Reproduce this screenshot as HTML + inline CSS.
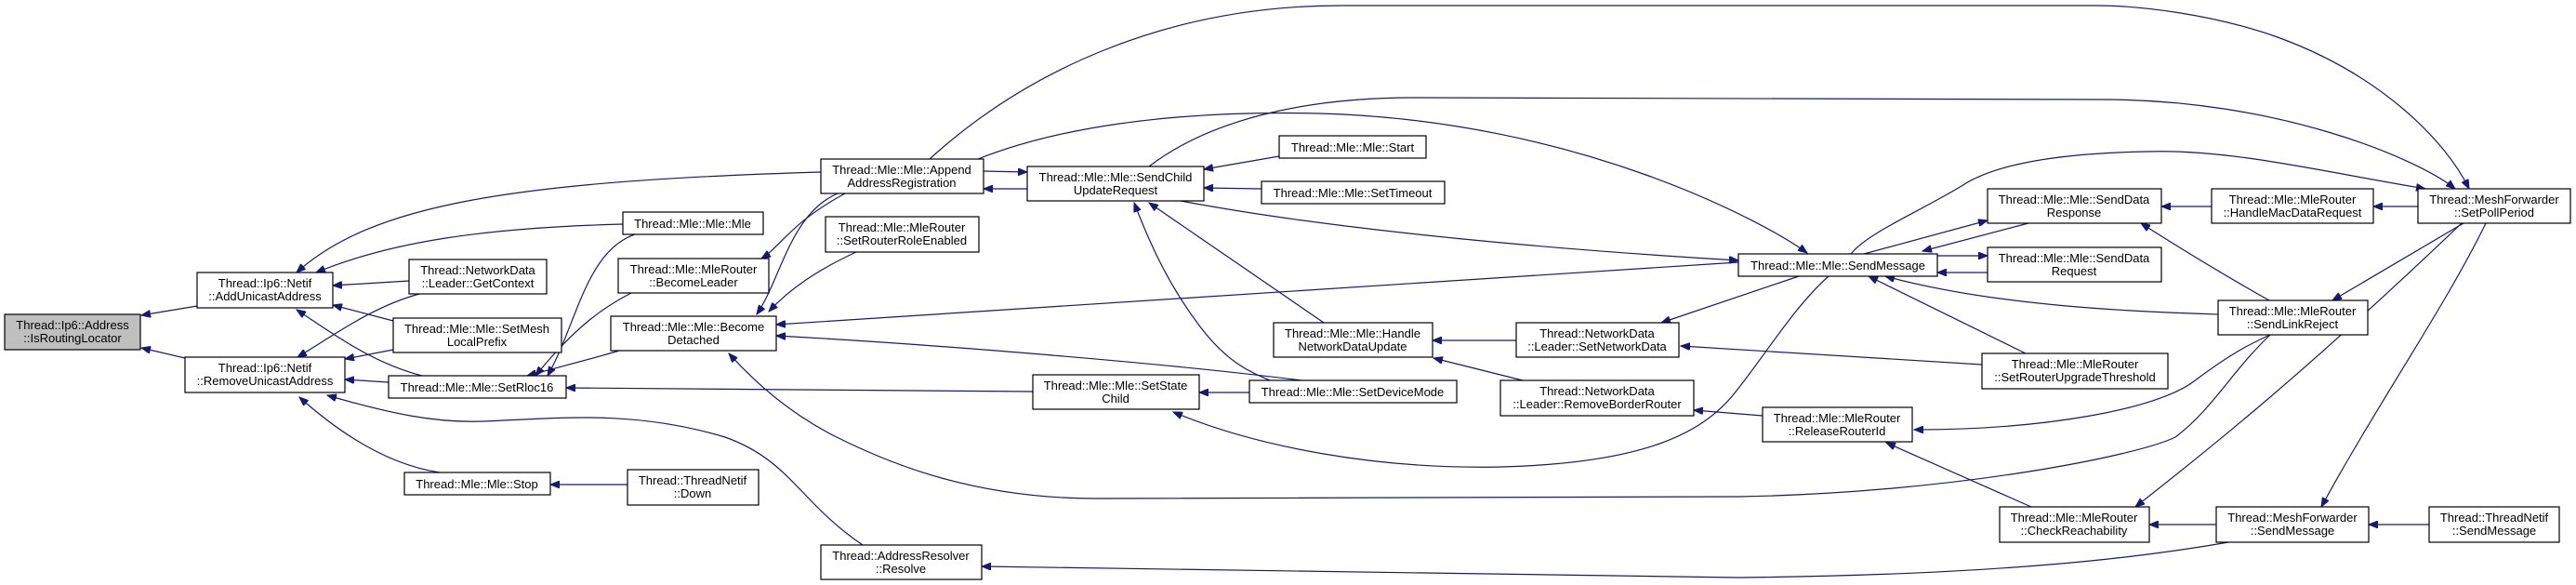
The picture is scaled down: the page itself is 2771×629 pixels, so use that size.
<!DOCTYPE html>
<html><head><meta charset="utf-8"><style>
html,body{margin:0;padding:0;background:#fff;}
svg{display:block;}
text{font-family:"Liberation Sans",sans-serif;font-size:13px;fill:#000;text-anchor:middle;}
.n{fill:#fff;stroke:#000;stroke-width:1.2;}
.e{fill:none;stroke:#191970;stroke-width:1.2;marker-start:url(#a);}
</style></head><body>
<svg width="2771" height="629" viewBox="0 0 2771 629" xmlns="http://www.w3.org/2000/svg">
<defs><marker id="a" markerWidth="11" markerHeight="8" refX="10" refY="4" orient="auto-start-reverse" markerUnits="userSpaceOnUse"><path d="M0,0 L10,4 L0,8 z" fill="#191970" stroke="#191970"/></marker></defs>
<g>
<path class="e" d="M152,339 L212,329"/>
<path class="e" d="M152,374 L199,385"/>
<path class="e" d="M319,293 C400,220 550,195 883,185"/>
<path class="e" d="M340,293 C420,260 520,245 670,241"/>
<path class="e" d="M358,307 L440,302"/>
<path class="e" d="M358,328 L423,345"/>
<path class="e" d="M319,333 C360,360 400,390 454,404"/>
<path class="e" d="M320,384 C360,360 400,330 451,316"/>
<path class="e" d="M371,386 L423,376"/>
<path class="e" d="M371,408 L418,411"/>
<path class="e" d="M322,427 C370,470 420,500 473,508"/>
<path class="e" d="M352,425 C420,445 470,455 520,453 C600,450 680,440 780,470 C850,495 860,540 928,586"/>
<path class="e" d="M592,521 L675,521"/>
<path class="e" d="M589,404 C620,350 630,270 683,252"/>
<path class="e" d="M576,404 C620,350 650,330 679,315"/>
<path class="e" d="M567,404 C600,395 640,385 666,377"/>
<path class="e" d="M609,417 L1111,421"/>
<path class="e" d="M819,278 C840,265 850,240 909,208"/>
<path class="e" d="M814,338 C840,300 850,230 901,208"/>
<path class="e" d="M827,335 C850,310 880,290 921,271"/>
<path class="e" d="M835,349 L1870,282"/>
<path class="e" d="M835,361 C1000,370 1250,390 1400,409"/>
<path class="e" d="M784,380 C820,420 860,450 900,470 C960,500 1050,536 1180,536 L1870,534 C2100,530 2300,490 2340,470 C2380,440 2400,400 2442,360"/>
<path class="e" d="M1290,422 L1344,422"/>
<path class="e" d="M1262,443 C1350,480 1480,505 1615,502 C1760,498 1830,470 1868,420 C1900,380 1930,330 1967,297"/>
<path class="e" d="M1105,185 L1058,184"/>
<path class="e" d="M1058,203 L1105,203"/>
<path class="e" d="M1295,182 L1376,168"/>
<path class="e" d="M1295,202 L1357,203"/>
<path class="e" d="M1220,218 C1240,270 1260,310 1290,350 C1320,390 1345,400 1366,409"/>
<path class="e" d="M1236,218 L1424,347"/>
<path class="e" d="M1870,280 C1700,270 1450,250 1270,216"/>
<path class="e" d="M1944,272 C1900,240 1700,130 1420,122 C1250,118 1130,140 1052,171"/>
<path class="e" d="M2656,203 C2630,150 2560,80 2450,40 C2380,15 2300,6 2256,6 L1442,6 C1250,6 1100,80 1000,171"/>
<path class="e" d="M2641,203 C2600,170 2450,107 2262,107 L1521,105 C1400,105 1300,130 1236,179"/>
<path class="e" d="M2609,203 C2500,185 2400,160 2309,163 C2200,165 2140,180 2110,200 C2060,230 2010,250 1991,273"/>
<path class="e" d="M2068,270 L2182,240"/>
<path class="e" d="M2138,237 L2005,273"/>
<path class="e" d="M2138,275 L2084,275"/>
<path class="e" d="M2084,293 L2138,293"/>
<path class="e" d="M2325,222 L2379,222"/>
<path class="e" d="M2553,222 L2601,222"/>
<path class="e" d="M2303,240 C2350,270 2400,300 2441,323"/>
<path class="e" d="M2028,297 C2150,330 2300,335 2386,338"/>
<path class="e" d="M2010,297 L2179,380"/>
<path class="e" d="M2509,323 L2650,240"/>
<path class="e" d="M1808,372 L2132,392"/>
<path class="e" d="M1787,347 L1935,297"/>
<path class="e" d="M1541,366 L1631,366"/>
<path class="e" d="M1542,385 L1638,409"/>
<path class="e" d="M1822,441 L1896,447"/>
<path class="e" d="M2059,462 C2200,462 2320,440 2360,410 C2400,380 2420,370 2442,360"/>
<path class="e" d="M2029,476 L2185,545"/>
<path class="e" d="M2297,545 C2380,480 2480,400 2648,240"/>
<path class="e" d="M2497,545 C2560,430 2630,330 2674,240"/>
<path class="e" d="M2312,564 L2384,564"/>
<path class="e" d="M2548,564 L2613,564"/>
<path class="e" d="M1056,609 L1870,621 C2150,618 2300,600 2397,583"/>
</g>
<g>
<rect x="5" y="338" width="146" height="38" fill="#bfbfbf" stroke="#000" stroke-width="1.2"/>
<text x="78" y="354">Thread::Ip6::Address</text><text x="78" y="368">::IsRoutingLocator</text>

<rect class="n" x="212" y="293" width="146" height="38"/>
<text x="285" y="309">Thread::Ip6::Netif</text><text x="285" y="323">::AddUnicastAddress</text>

<rect class="n" x="199" y="384" width="172" height="38"/>
<text x="285" y="400">Thread::Ip6::Netif</text><text x="285" y="414">::RemoveUnicastAddress</text>

<rect class="n" x="440" y="279" width="148" height="37"/>
<text x="514" y="295">Thread::NetworkData</text><text x="514" y="309">::Leader::GetContext</text>

<rect class="n" x="423" y="342" width="181" height="37"/>
<text x="513" y="358">Thread::Mle::Mle::SetMesh</text><text x="513" y="372">LocalPrefix</text>

<rect class="n" x="418" y="404" width="191" height="24"/>
<text x="513" y="421">Thread::Mle::Mle::SetRloc16</text>

<rect class="n" x="435" y="508" width="157" height="24"/>
<text x="513" y="525">Thread::Mle::Mle::Stop</text>

<rect class="n" x="675" y="505" width="141" height="38"/>
<text x="745" y="521">Thread::ThreadNetif</text><text x="745" y="535">::Down</text>

<rect class="n" x="883" y="586" width="173" height="37"/>
<text x="969" y="602">Thread::AddressResolver</text><text x="969" y="616">::Resolve</text>

<rect class="n" x="670" y="228" width="151" height="24"/>
<text x="745" y="245">Thread::Mle::Mle::Mle</text>

<rect class="n" x="665" y="278" width="162" height="37"/>
<text x="746" y="294">Thread::Mle::MleRouter</text><text x="746" y="308">::BecomeLeader</text>

<rect class="n" x="657" y="340" width="178" height="37"/>
<text x="746" y="356">Thread::Mle::Mle::Become</text><text x="746" y="370">Detached</text>

<rect class="n" x="883" y="171" width="175" height="37"/>
<text x="970" y="187">Thread::Mle::Mle::Append</text><text x="970" y="201">AddressRegistration</text>

<rect class="n" x="888" y="233" width="165" height="38"/>
<text x="970" y="249">Thread::Mle::MleRouter</text><text x="970" y="263">::SetRouterRoleEnabled</text>

<rect class="n" x="1105" y="179" width="190" height="37"/>
<text x="1200" y="195">Thread::Mle::Mle::SendChild</text><text x="1200" y="209">UpdateRequest</text>

<rect class="n" x="1111" y="403" width="179" height="37"/>
<text x="1200" y="419">Thread::Mle::Mle::SetState</text><text x="1200" y="433">Child</text>

<rect class="n" x="1376" y="146" width="158" height="24"/>
<text x="1455" y="163">Thread::Mle::Mle::Start</text>

<rect class="n" x="1357" y="195" width="197" height="24"/>
<text x="1455" y="212">Thread::Mle::Mle::SetTimeout</text>

<rect class="n" x="1370" y="347" width="171" height="37"/>
<text x="1455" y="363">Thread::Mle::Mle::Handle</text><text x="1455" y="377">NetworkDataUpdate</text>

<rect class="n" x="1344" y="409" width="223" height="24"/>
<text x="1455" y="426">Thread::Mle::Mle::SetDeviceMode</text>

<rect class="n" x="1631" y="347" width="175" height="37"/>
<text x="1718" y="363">Thread::NetworkData</text><text x="1718" y="377">::Leader::SetNetworkData</text>

<rect class="n" x="1614" y="409" width="208" height="38"/>
<text x="1718" y="425">Thread::NetworkData</text><text x="1718" y="439">::Leader::RemoveBorderRouter</text>

<rect class="n" x="1870" y="273" width="214" height="24"/>
<text x="1977" y="290">Thread::Mle::Mle::SendMessage</text>

<rect class="n" x="1896" y="438" width="161" height="37"/>
<text x="1976" y="454">Thread::Mle::MleRouter</text><text x="1976" y="468">::ReleaseRouterId</text>

<rect class="n" x="2138" y="203" width="187" height="37"/>
<text x="2231" y="219">Thread::Mle::Mle::SendData</text><text x="2231" y="233">Response</text>

<rect class="n" x="2138" y="266" width="187" height="37"/>
<text x="2231" y="282">Thread::Mle::Mle::SendData</text><text x="2231" y="296">Request</text>

<rect class="n" x="2132" y="380" width="200" height="38"/>
<text x="2232" y="396">Thread::Mle::MleRouter</text><text x="2232" y="410">::SetRouterUpgradeThreshold</text>

<rect class="n" x="2151" y="545" width="161" height="38"/>
<text x="2231" y="561">Thread::Mle::MleRouter</text><text x="2231" y="575">::CheckReachability</text>

<rect class="n" x="2379" y="203" width="174" height="37"/>
<text x="2466" y="219">Thread::Mle::MleRouter</text><text x="2466" y="233">::HandleMacDataRequest</text>

<rect class="n" x="2386" y="323" width="161" height="37"/>
<text x="2466" y="339">Thread::Mle::MleRouter</text><text x="2466" y="353">::SendLinkReject</text>

<rect class="n" x="2384" y="545" width="164" height="38"/>
<text x="2466" y="561">Thread::MeshForwarder</text><text x="2466" y="575">::SendMessage</text>

<rect class="n" x="2601" y="203" width="164" height="37"/>
<text x="2683" y="219">Thread::MeshForwarder</text><text x="2683" y="233">::SetPollPeriod</text>

<rect class="n" x="2613" y="545" width="140" height="38"/>
<text x="2683" y="561">Thread::ThreadNetif</text><text x="2683" y="575">::SendMessage</text>
</g>
</svg>
</body></html>
